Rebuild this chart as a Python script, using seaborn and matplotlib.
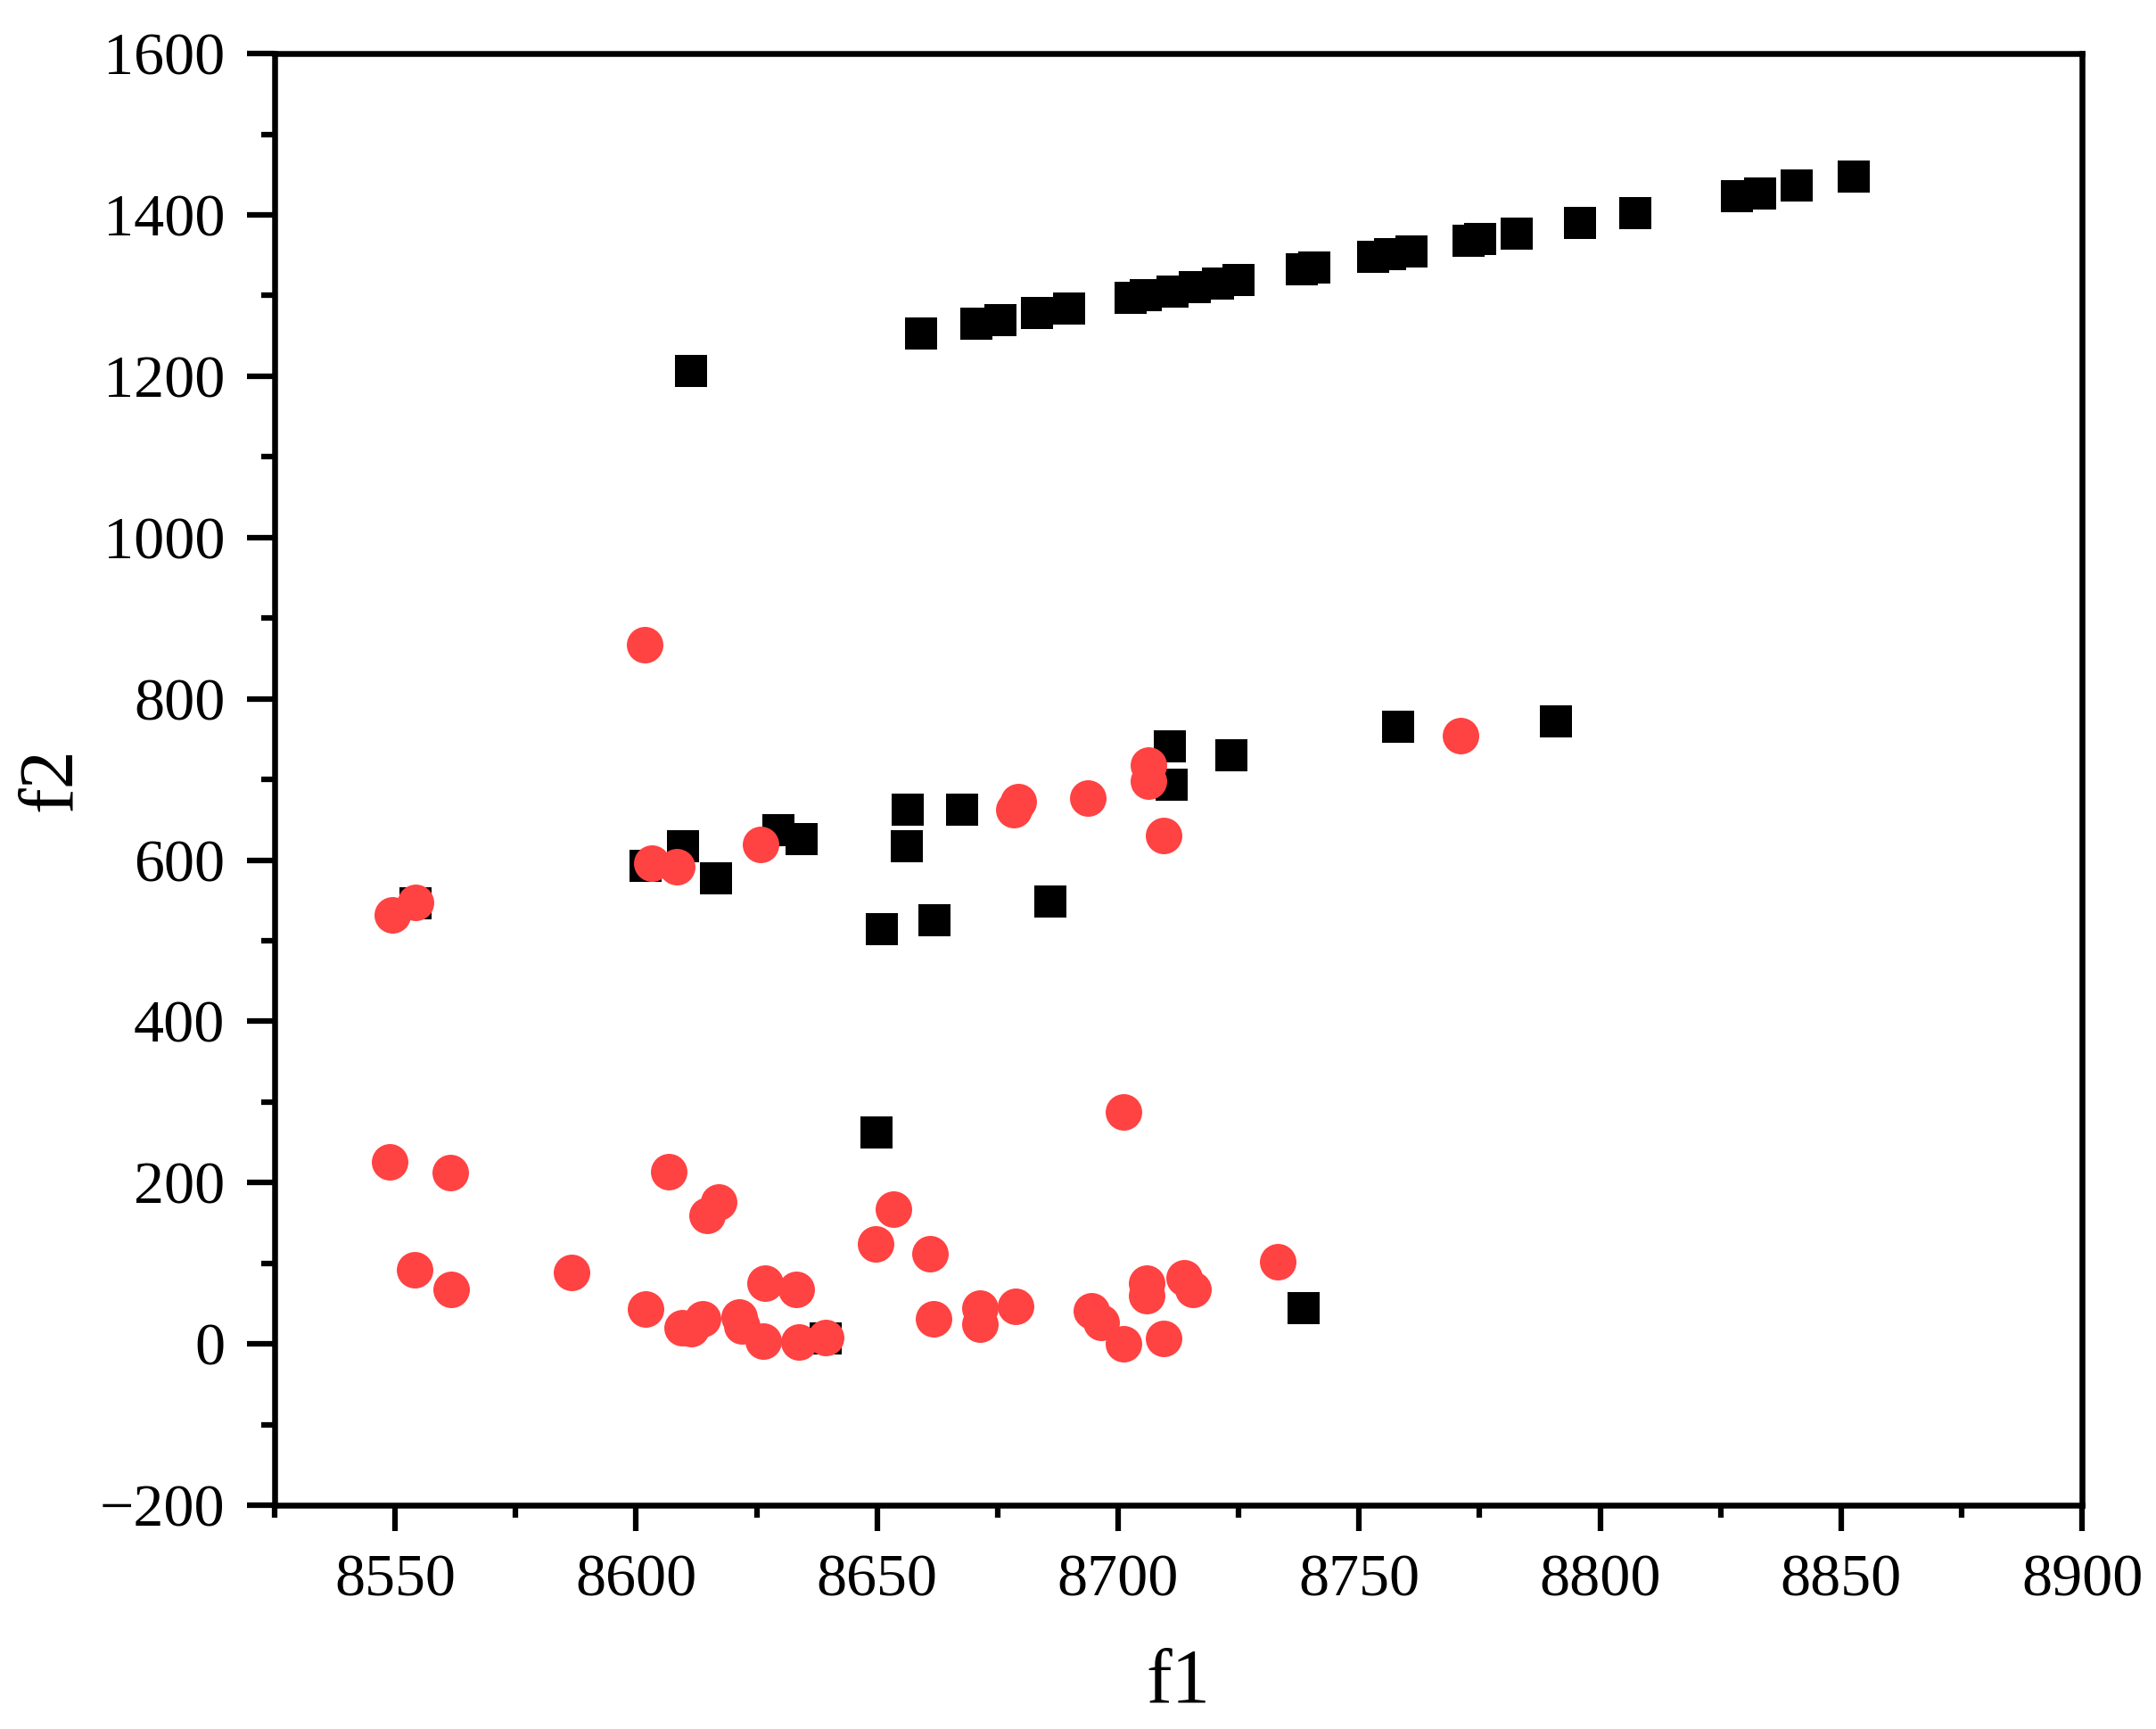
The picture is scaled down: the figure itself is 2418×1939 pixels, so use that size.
import matplotlib
matplotlib.use("Agg")
import matplotlib.pyplot as plt
from matplotlib.ticker import MultipleLocator
import seaborn as sns
import pandas as pd

# ---- data ----
black_f1 = [8611.4, 8659.1, 8670.5, 8675.6, 8683.2, 8689.8, 8702.5, 8705.7, 8711.2,
            8716.0, 8720.8, 8724.9, 8738.2, 8740.7, 8753.0, 8756.4, 8760.9, 8772.7,
            8775.2, 8782.7, 8795.8, 8807.3, 8828.4, 8833.2, 8840.8, 8852.7,
            8554.2, 8601.9, 8609.7, 8616.5, 8629.6, 8634.3, 8656.3, 8656.2, 8667.6,
            8651.0, 8661.8, 8685.9, 8649.9, 8639.4, 8710.7, 8711.1, 8723.5, 8758.1,
            8790.8, 8738.5]
black_f2 = [1206, 1253, 1265, 1270, 1278, 1284, 1297, 1300, 1305,
            1310, 1315, 1319, 1333, 1335, 1348, 1351, 1355, 1368,
            1370, 1377, 1390, 1402, 1423, 1427, 1436, 1447,
            546, 593, 617, 577, 637, 626, 663, 617, 663,
            514, 525, 549, 262, 7, 741, 694, 730, 765,
            772, 44]

red_f1 = [8601.8, 8549.4, 8554.2, 8603.2, 8608.4, 8625.8, 8678.4, 8679.3, 8693.8,
          8706.3, 8706.3, 8709.4, 8771.1,
          8548.8, 8561.5, 8606.7, 8617.1, 8614.8, 8653.4, 8649.6, 8660.9, 8701.2,
          8554.1, 8561.7, 8586.6, 8601.9, 8609.6, 8611.3, 8613.7, 8621.4, 8621.9,
          8626.3, 8626.8, 8633.3, 8633.7, 8639.4, 8661.7, 8671.3, 8671.3, 8678.7,
          8694.5, 8696.4, 8701.2, 8706.0, 8706.0, 8709.4, 8713.7, 8715.5, 8733.1]
red_f2 = [867, 532, 547, 596, 592, 619, 663, 673, 677,
          718, 698, 631, 754,
          226, 212, 214, 176, 159, 167, 124, 112, 288,
          92, 68, 89, 43, 20, 19, 31, 33, 22,
          3, 75, 68, 2, 8, 31, 44, 24, 47,
          41, 27, 0, 75, 60, 7, 82, 68, 102]

x_ticks = [8550, 8600, 8650, 8700, 8750, 8800, 8850, 8900]
y_ticks = [-200, 0, 200, 400, 600, 800, 1000, 1200, 1400, 1600]

df_black = pd.DataFrame({"f1": black_f1, "f2": black_f2})
df_red = pd.DataFrame({"f1": red_f1, "f2": red_f2})

sns.set_theme(style="white")
plt.rcParams["font.family"] = ["Liberation Serif", "DejaVu Serif"]
plt.rcParams["text.color"] = "black"
plt.rcParams["axes.labelcolor"] = "black"
plt.rcParams["xtick.color"] = "black"
plt.rcParams["ytick.color"] = "black"

fig = plt.figure(figsize=(24.18, 19.39), dpi=100)
ax = fig.add_axes([0.1274, 0.1294, 0.9657 - 0.1274, 0.969 - 0.1294])

sns.scatterplot(data=df_black, x="f1", y="f2", marker="s", s=700,
                color="black", linewidth=0, ax=ax, zorder=3)
sns.scatterplot(data=df_red, x="f1", y="f2", marker="o", s=870,
                color="#FF4242", linewidth=0, ax=ax, zorder=4)

ax.set_xlim(8525, 8900)
ax.set_ylim(-200, 1600)
ax.set_xticks(x_ticks)
ax.set_yticks(y_ticks)
ax.xaxis.set_minor_locator(MultipleLocator(25))
ax.yaxis.set_minor_locator(MultipleLocator(100))

for sp in ax.spines.values():
    sp.set_visible(True)
    sp.set_linewidth(4.7)
    sp.set_color("black")

ax.tick_params(axis="both", which="both", direction="out", color="black",
               labelcolor="black", width=4.5,
               bottom=True, left=True, top=False, right=False)
ax.tick_params(axis="x", which="major", length=21, pad=18, labelsize=49)
ax.tick_params(axis="x", which="minor", length=10)
ax.tick_params(axis="y", which="major", length=22, pad=18, labelsize=49)
ax.tick_params(axis="y", which="minor", length=11)

ax.set_xlabel("f1", fontsize=62, labelpad=32, color="black")
ax.set_ylabel("f2", fontsize=62, labelpad=10, color="black")
ax.grid(False)

fig.savefig("out.png", dpi=100, facecolor="white")
